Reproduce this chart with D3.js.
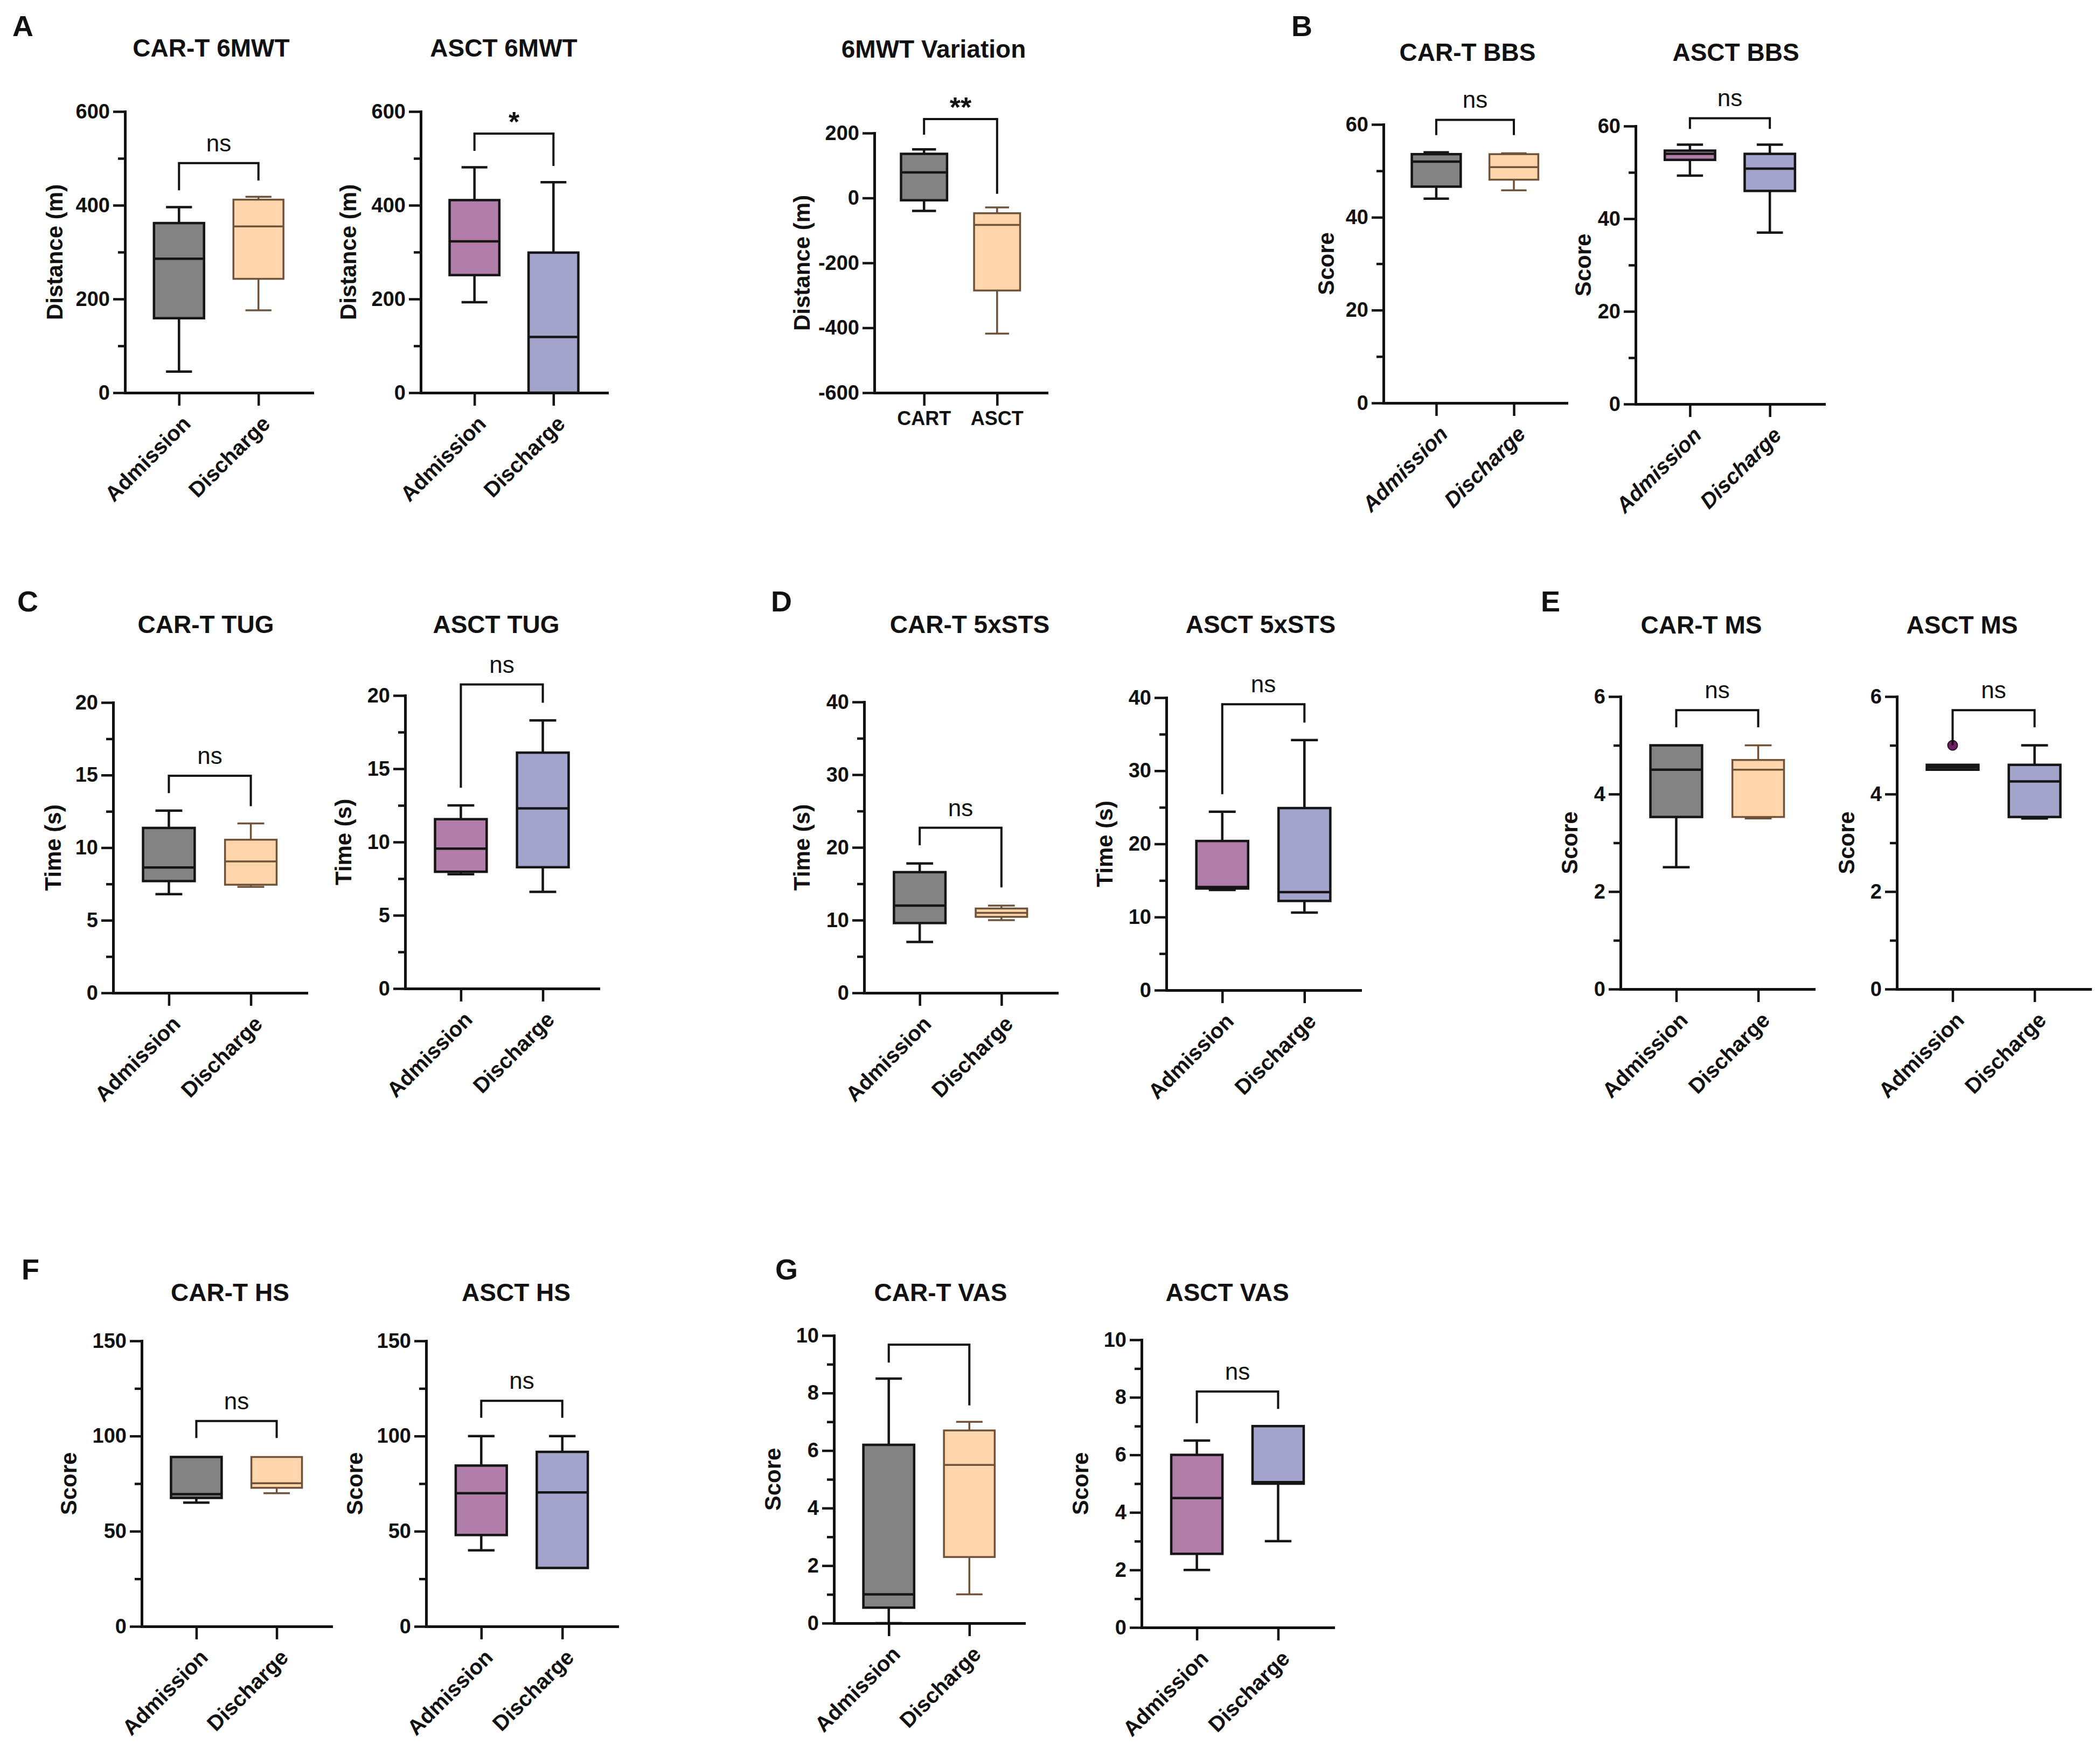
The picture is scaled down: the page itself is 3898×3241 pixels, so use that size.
<!DOCTYPE html>
<html>
<head>
<meta charset="utf-8">
<script src="https://cdn.jsdelivr.net/npm/d3@7"></script>
<style>
  body { margin: 0; background: #fff; }
  text { font-family: "Liberation Sans", Arial, sans-serif; fill: #111; }
</style>
</head>
<body>
<div id="chart"></div>
<script>
// categories
let categories = ["Admission", "Discharge"]
let groups = ["CART", "ASCT"]

// box stats per group: [min, q1, median, q3, max]
let cart6mwt = [[45, 159, 286, 362, 396], [176, 243, 355, 412, 418]]
let asct6mwt = [[193, 251, 323, 411, 481], [0, 0, 119, 299, 449]]
let variation6mwt = [[-40, -7, 79, 136, 150], [-418, -285, -83, -47, -29]]
let cartBbs = [[44, 46.6, 52, 53.6, 54], [45.8, 48.1, 50.8, 53.6, 53.8]]
let asctBbs = [[49.3, 52.7, 54, 54.7, 56], [37, 46, 50.8, 54, 56]]
let cartTug = [[6.8, 7.7, 8.64, 11.36, 12.55], [7.3, 7.45, 9.05, 10.55, 11.67]]
let asctTug = [[7.8, 7.97, 9.55, 11.56, 12.5], [6.6, 8.28, 12.3, 16.1, 18.3]]
let cartSts = [[7.0, 9.6, 12.0, 16.6, 17.8], [10.0, 10.45, 11.0, 11.6, 12.0]]
let asctSts = [[13.7, 13.9, 14.1, 20.4, 24.4], [10.6, 12.2, 13.4, 24.9, 34.2]]
let cartMs = [[2.5, 3.53, 4.5, 5, 5], [3.5, 3.53, 4.5, 4.7, 5]]
let asctMs = [[4.5, 4.5, 4.55, 4.6, 4.6], [3.5, 3.53, 4.26, 4.6, 5]]
let asctMsOutliers = [[0, 5]]   // [group index, value]
let cartHs = [[65, 67.5, 69.5, 89, 89], [70, 72.8, 75.2, 89, 89]]
let asctHs = [[40, 48, 70, 84.5, 100], [30.7, 30.7, 70.4, 91.7, 100]]
let cartVas = [[0, 0.54, 1, 6.2, 8.5], [1, 2.3, 5.5, 6.7, 7]]
let asctVas = [[2, 2.56, 4.5, 6, 6.5], [3, 5, 5.05, 7, 7]]

// significance brackets: [bar value, left leg end, right leg end, label]
let cart6mwtSig = [490, 432, 453, "ns"]
let asct6mwtSig = [553, 516, 484, "*"]
let variationSig = [243, 195, 13, "**"]
let cartBbsSig = [61, 57.7, 57.7, "ns"]
let asctBbsSig = [61.7, 59.4, 59.4, "ns"]
let cartTugSig = [14.95, 13.76, 12.86, "ns"]
let asctTugSig = [20.75, 13.7, 19.5, "ns"]
let cartStsSig = [22.7, 20.3, 14.5, "ns"]
let asctStsSig = [39.1, 26.8, 36.6, "ns"]
let cartMsSig = [5.72, 5.37, 5.37, "ns"]
let asctMsSig = [5.72, 5.0, 5.37, "ns"]
let cartHsSig = [107.9, 99, 99, "ns"]
let asctHsSig = [118.5, 109.6, 109.6, "ns"]
let cartVasSig = [9.68, 9.06, 7.57, ""]
let asctVasSig = [8.2, 7.1, 7.6, "ns"]

// tick values
let ticks6mwt = [0, 200, 400, 600], minor6mwt = [100, 300, 500]
let ticksVar = [-600, -400, -200, 0, 200]
let ticksBbs = [0, 20, 40, 60], minorBbs = [10, 30, 50]
let ticksTug = [0, 5, 10, 15, 20], minorTug = [2.5, 7.5, 12.5, 17.5]
let ticksSts = [0, 10, 20, 30, 40], minorSts = [5, 15, 25, 35]
let ticksMs = [0, 2, 4, 6], minorMs = [1, 3, 5]
let ticksHs = [0, 50, 100, 150], minorHs = [25, 75, 125]
let ticksVas = [0, 2, 4, 6, 8, 10], minorVas = [1, 3, 5, 7, 9]

let cartColors = [{fill: "#838383", stroke: "#151515", sw: 4.5}, {fill: "#FFD6AC", stroke: "#6E5239", sw: 3.5}]
let asctColors = [{fill: "#B17DA9", stroke: "#151515", sw: 4.5}, {fill: "#A3A3CB", stroke: "#151515", sw: 4.5}]

let width = 3898, height = 3241

let svg = d3.select("#chart").append("svg")
    .attr("width", width)
    .attr("height", height)
    .style("background", "#fff")

// panels (layout + which arrays they use)
let panels = [
  {title: "CAR-T 6MWT", ylab: "Distance (m)", data: cart6mwt, sig: cart6mwtSig, ticks: ticks6mwt, minor: minor6mwt, colors: cartColors,
   left: 232, w: 348, top: 207, bottom: 729, tx: 392, ty: 105, yOff: 131},
  {title: "ASCT 6MWT", ylab: "Distance (m)", data: asct6mwt, sig: asct6mwtSig, ticks: ticks6mwt, minor: minor6mwt, colors: asctColors,
   left: 781, w: 346, top: 207, bottom: 729, tx: 935, ty: 105, yOff: 135},
  {title: "6MWT Variation", ylab: "Distance (m)", data: variation6mwt, sig: variationSig, ticks: ticksVar, minor: [], colors: cartColors,
   left: 1623, w: 320, top: 247, bottom: 729, tx: 1733, ty: 107, yOff: 135, cats: groups, flat: true},
  {title: "CAR-T BBS", ylab: "Score", data: cartBbs, sig: cartBbsSig, ticks: ticksBbs, minor: minorBbs, colors: cartColors,
   left: 2568, w: 340, top: 231, bottom: 748, tx: 2724, ty: 113, yOff: 107, italic: true},
  {title: "ASCT BBS", ylab: "Score", data: asctBbs, sig: asctBbsSig, ticks: ticksBbs, minor: minorBbs, colors: asctColors,
   left: 3036, w: 350, top: 234, bottom: 750, tx: 3222, ty: 113, yOff: 98, italic: true},
  {title: "CAR-T TUG", ylab: "Time (s)", data: cartTug, sig: cartTugSig, ticks: ticksTug, minor: minorTug, colors: cartColors,
   left: 210, w: 359, top: 1304, bottom: 1843, tx: 382, ty: 1175, yOff: 112},
  {title: "ASCT TUG", ylab: "Time (s)", data: asctTug, sig: asctTugSig, ticks: ticksTug, minor: minorTug, colors: asctColors,
   left: 752, w: 359, top: 1291, bottom: 1835, tx: 921, ty: 1175, yOff: 115},
  {title: "CAR-T 5xSTS", ylab: "Time (s)", data: cartSts, sig: cartStsSig, ticks: ticksSts, minor: minorSts, colors: cartColors,
   left: 1604, w: 358, top: 1303, bottom: 1843, tx: 1800, ty: 1175, yOff: 116},
  {title: "ASCT 5xSTS", ylab: "Time (s)", data: asctSts, sig: asctStsSig, ticks: ticksSts, minor: minorSts, colors: asctColors,
   left: 2165, w: 360, top: 1295, bottom: 1838, tx: 2340, ty: 1175, yOff: 115},
  {title: "CAR-T MS", ylab: "Score", data: cartMs, sig: cartMsSig, ticks: ticksMs, minor: minorMs, colors: cartColors,
   left: 3008, w: 359, top: 1293, bottom: 1836, tx: 3158, ty: 1176, yOff: 95},
  {title: "ASCT MS", ylab: "Score", data: asctMs, sig: asctMsSig, ticks: ticksMs, minor: minorMs, colors: asctColors,
   left: 3521, w: 359, top: 1293, bottom: 1836, tx: 3642, ty: 1176, yOff: 94, outliers: asctMsOutliers},
  {title: "CAR-T HS", ylab: "Score", data: cartHs, sig: cartHsSig, ticks: ticksHs, minor: minorHs, colors: cartColors,
   left: 263, w: 352, top: 2489, bottom: 3019, tx: 427, ty: 2415, yOff: 136},
  {title: "ASCT HS", ylab: "Score", data: asctHs, sig: asctHsSig, ticks: ticksHs, minor: minorHs, colors: asctColors,
   left: 791, w: 355, top: 2489, bottom: 3019, tx: 958, ty: 2415, yOff: 133},
  {title: "CAR-T VAS", ylab: "Score", data: cartVas, sig: cartVasSig, ticks: ticksVas, minor: minorVas, colors: cartColors,
   left: 1548, w: 353, top: 2479, bottom: 3013, tx: 1746, ty: 2415, yOff: 114},
  {title: "ASCT VAS", ylab: "Score", data: asctVas, sig: asctVasSig, ticks: ticksVas, minor: minorVas, colors: asctColors,
   left: 2119, w: 356, top: 2487, bottom: 3021, tx: 2278, ty: 2415, yOff: 114}
]

let letters = [
  {t: "A", x: 23, y: 67}, {t: "B", x: 2397, y: 67},
  {t: "C", x: 32, y: 1135}, {t: "D", x: 1431, y: 1135}, {t: "E", x: 2860, y: 1135},
  {t: "F", x: 40, y: 2375}, {t: "G", x: 1439, y: 2375}
]

svg.selectAll(".letter").data(letters).enter().append("text")
  .attr("class", "letter")
  .attr("x", d => d.x).attr("y", d => d.y)
  .style("font-size", "54px").style("font-weight", "bold")
  .text(d => d.t)

panels.forEach(drawPanel)

function drawPanel(p) {
  let cats = p.cats || categories
  let g = svg.append("g")
  let y = d3.scaleLinear()
      .domain([p.ticks[0], p.ticks[p.ticks.length - 1]])
      .range([p.bottom, p.top])
  let x = d3.scalePoint()
      .domain(cats)
      .range([p.left, p.left + p.w])
      .padding(0.68)
  let boxW = x.step() * 0.63
  let capW = boxW * 0.52

  // title
  g.append("text")
    .attr("x", p.tx).attr("y", p.ty)
    .attr("text-anchor", "middle")
    .style("font-size", "46px").style("font-weight", "bold")
    .text(p.title)

  // boxes
  let box = g.selectAll(".box").data(p.data).enter().append("g")
      .attr("class", "box")
      .attr("transform", (d, i) => "translate(" + x(cats[i]) + ",0)")
  box.each(function(d, i) {
    let b = d3.select(this), c = p.colors[i]
    let [mn, q1, md, q3, mx] = d
    // whiskers
    if (mx > q3) {
      b.append("line").attr("x1", 0).attr("x2", 0).attr("y1", y(q3)).attr("y2", y(mx))
        .attr("stroke", c.stroke).attr("stroke-width", c.sw)
      b.append("line").attr("x1", -capW / 2).attr("x2", capW / 2).attr("y1", y(mx)).attr("y2", y(mx))
        .attr("stroke", c.stroke).attr("stroke-width", c.sw)
    }
    if (mn < q1) {
      b.append("line").attr("x1", 0).attr("x2", 0).attr("y1", y(q1)).attr("y2", y(mn))
        .attr("stroke", c.stroke).attr("stroke-width", c.sw)
      b.append("line").attr("x1", -capW / 2).attr("x2", capW / 2).attr("y1", y(mn)).attr("y2", y(mn))
        .attr("stroke", c.stroke).attr("stroke-width", c.sw)
    }
    b.append("rect")
      .attr("x", -boxW / 2).attr("width", boxW)
      .attr("y", y(q3)).attr("height", Math.max(0.5, y(q1) - y(q3)))
      .attr("fill", c.fill).attr("stroke", c.stroke).attr("stroke-width", c.sw)
    b.append("line").attr("x1", -boxW / 2).attr("x2", boxW / 2).attr("y1", y(md)).attr("y2", y(md))
      .attr("stroke", c.stroke).attr("stroke-width", c.sw)
  })

  // outliers
  if (p.outliers) {
    g.selectAll(".out").data(p.outliers).enter().append("circle")
      .attr("cx", d => x(cats[d[0]])).attr("cy", d => y(d[1])).attr("r", 9)
      .attr("fill", "#6E1F66").attr("stroke", "#2a0a28").attr("stroke-width", 2)
  }

  // y axis: major + minor ticks
  let yAx = g.append("g").attr("class", "axis")
      .attr("transform", "translate(" + p.left + ",0)")
      .call(d3.axisLeft(y).tickValues(p.ticks).tickSize(22).tickPadding(6)
        .tickSizeOuter(0).tickFormat(d => String(d)))
  if (p.minor.length) {
    g.append("g").attr("class", "axis")
      .attr("transform", "translate(" + p.left + ",0)")
      .call(d3.axisLeft(y).tickValues(p.minor).tickSize(13).tickSizeOuter(0).tickFormat(""))
  }

  // x axis
  g.append("g").attr("class", "axis")
    .attr("transform", "translate(0," + p.bottom + ")")
    .call(d3.axisBottom(x).tickSize(24).tickSizeOuter(0).tickFormat(""))

  g.selectAll(".axis path").attr("stroke", "#111").attr("stroke-width", 5).attr("stroke-linecap", "square")
  g.selectAll(".axis line").attr("stroke", "#111").attr("stroke-width", 4.5)
  yAx.selectAll("text")
    .style("font-size", "38px").style("font-weight", "bold")
    .style("font-family", "'Liberation Sans', Arial, sans-serif").attr("fill", "#111")

  // category labels
  if (p.flat) {
    g.selectAll(".cat").data(cats).enter().append("text")
      .attr("x", d => x(d)).attr("y", p.bottom + 60)
      .attr("text-anchor", "middle")
      .style("font-size", "36px").style("font-weight", "bold")
      .text(d => d)
  } else {
    g.selectAll(".cat").data(cats).enter().append("text")
      .attr("transform", d => "translate(" + (x(d) + 14) + "," + (p.bottom + 50) + ") rotate(-45)")
      .attr("text-anchor", "end")
      .attr("dy", "0.35em")
      .style("font-size", "40px").style("font-weight", "bold")
      .style("font-style", p.italic ? "italic" : "normal")
      .text(d => d)
  }

  // y axis label
  g.append("text")
    .attr("transform", "translate(" + (p.left - p.yOff) + "," + ((p.top + p.bottom) / 2) + ") rotate(-90)")
    .attr("text-anchor", "middle")
    .attr("dy", "0.35em")
    .style("font-size", "42px").style("font-weight", "bold")
    .text(p.ylab)

  // significance bracket
  let [bar, l1, l2, lab] = p.sig
  let x1 = x(cats[0]), x2 = x(cats[1])
  g.append("path")
    .attr("d", "M" + x1 + "," + y(l1) + "V" + y(bar) + "H" + x2 + "V" + y(l2))
    .attr("fill", "none").attr("stroke", "#111").attr("stroke-width", 4)
  if (lab) {
    let star = lab.indexOf("*") >= 0
    g.append("text")
      .attr("x", (x1 + x2) / 2)
      .attr("y", y(bar) - (star ? 4 : 22))
      .attr("text-anchor", "middle")
      .style("font-size", star ? "52px" : "44px")
      .style("font-weight", star ? "bold" : "normal")
      .attr("fill", "#222")
      .text(lab)
  }
}
</script>
</body>
</html>
